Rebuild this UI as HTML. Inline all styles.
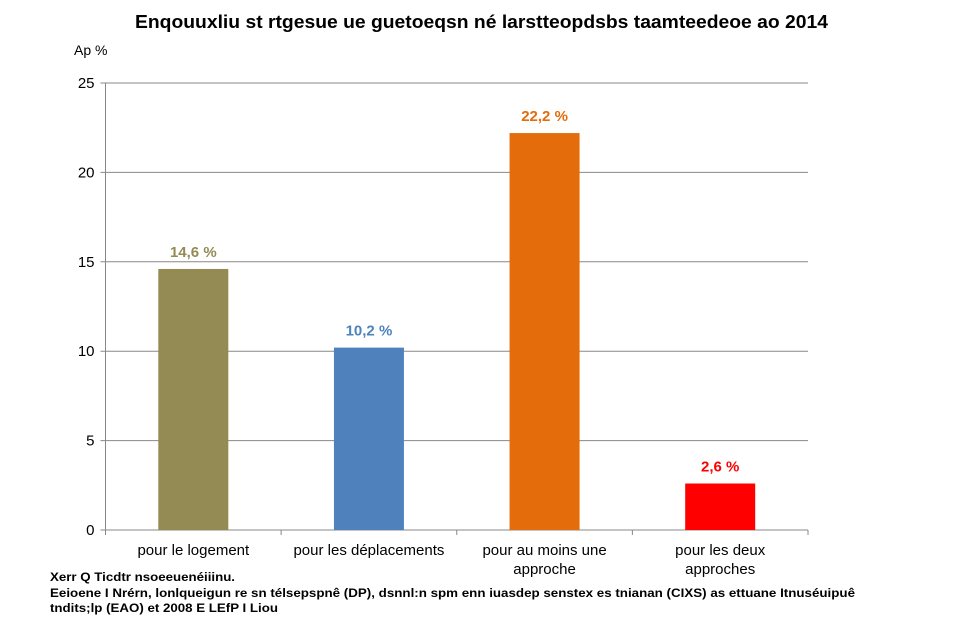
<!DOCTYPE html>
<html><head><meta charset="utf-8"><style>
body{margin:0;background:#fff;width:961px;height:633px;overflow:hidden;font-family:"Liberation Sans",sans-serif}
svg{display:block}
</style></head><body>
<svg id="chart" width="961" height="633" xmlns="http://www.w3.org/2000/svg" font-family="Liberation Sans, sans-serif">
<text x="135" y="28" font-size="18" font-weight="bold" textLength="693" lengthAdjust="spacingAndGlyphs">Enqouuxliu st rtgesue ue guetoeqsn né larstteopdsbs taamteedeoe ao 2014</text>
<text x="74" y="55" font-size="14">Ap %</text>
<g id="grid"></g><g id="bars"></g><g id="labels"></g>
<text x="50" y="581" font-size="12" font-weight="bold" textLength="185" lengthAdjust="spacingAndGlyphs">Xerr Q Ticdtr nsoeeuenéiiinu.</text>
<text x="50" y="597" font-size="12" font-weight="bold" textLength="805" lengthAdjust="spacingAndGlyphs">Eeioene I Nrérn, lonlqueigun re sn télsepspnê (DP), dsnnl:n spm enn iuasdep senstex es tnianan (CIXS) as ettuane Itnuséuipuê</text>
<text x="50" y="612" font-size="12" font-weight="bold" textLength="228" lengthAdjust="spacingAndGlyphs">tndits;lp (EAO) et 2008  E LEfP I Liou</text>
</svg>
<script>
const categories=[["pour le logement"],["pour les déplacements"],["pour au moins une","approche"],["pour les deux","approches"]];
const values=[14.6,10.2,22.2,2.6];
const valueLabels=["14,6 %","10,2 %","22,2 %","2,6 %"];
const colors=["#948A54","#4F81BD","#E46C0A","#FF0000"];
const yTicks=[0,5,10,15,20,25];
const NS="http://www.w3.org/2000/svg";
const x0=105.5,x1=808,yTop=83,yBot=530,yMax=25;
const y=v=>yBot-(v/yMax)*(yBot-yTop);
const bw=(x1-x0)/categories.length;
const xc=i=>x0+bw*(i+0.5);
function mk(t,a,p){const e=document.createElementNS(NS,t);for(const k in a)e.setAttribute(k,a[k]);p.appendChild(e);return e;}
const g=document.getElementById('grid'),b=document.getElementById('bars'),l=document.getElementById('labels');
yTicks.forEach(t=>{
 const ln=mk('line',{x1:x0-5,x2:x1,y1:y(t),y2:y(t),stroke:'#888','stroke-width':1},g);
 
 
 const tx=mk('text',{x:x0-11,y:y(t)+5,'text-anchor':'end','font-size':15},g);tx.textContent=t;
 
 
});
const ax=mk('line',{x1:x0,x2:x0,y1:yTop,y2:yBot,stroke:'#888'},g);


for(let i=0;i<=categories.length;i++){mk('line',{x1:x0+bw*i,x2:x0+bw*i,y1:yBot,y2:yBot+5,stroke:'#888'},g);}
values.forEach((v,i)=>{
 const r=mk('rect',{x:xc(i)-35,y:y(v),width:70,height:yBot-y(v),fill:colors[i]},b);
 
 
 const t=mk('text',{x:xc(i),y:y(v)-12,'text-anchor':'middle','font-size':15,'font-weight':'bold',fill:colors[i]},l);t.textContent=valueLabels[i];
 
 
 categories[i].forEach((s,j)=>{const c=mk('text',{x:xc(i),y:555+j*19,'text-anchor':'middle','font-size':15},l);c.textContent=s;
 
 });
});
</script>
</body></html>
